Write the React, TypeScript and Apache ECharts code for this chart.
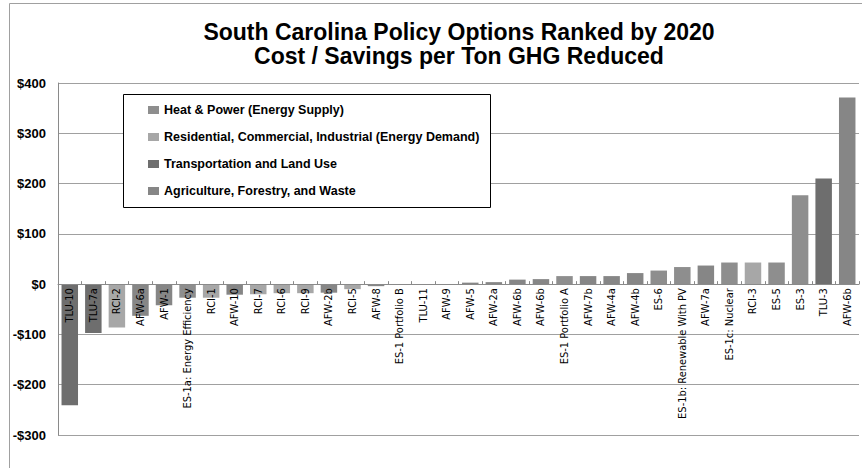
import React, { useEffect, useRef } from "react";
import * as echarts from "echarts";

const categories = [
  "TLU-10", "TLU-7a", "RCI-2", "AFW-6a", "AFW-1", "ES-1a: Energy Efficiency", "RCI-1", "AFW-10",
  "RCI-7", "RCI-6", "RCI-9", "AFW-2b", "RCI-5", "AFW-8", "ES-1 Portfolio B", "TLU-11", "AFW-9",
  "AFW-5", "AFW-2a", "AFW-6b", "AFW-6b", "ES-1 Portfolio A", "AFW-7b", "AFW-4a", "AFW-4b", "ES-6",
  "ES-1b: Renewable With PV", "AFW-7a", "ES-1c: Nuclear", "RCI-3", "ES-5", "ES-3", "TLU-3", "AFW-6b",
];

const values = [
  -241, -97, -86, -63, -42, -27, -27, -21,
  -20, -18, -18, -17, -10, -4, -1.5, 0, 0,
  3, 4, 9, 10, 16, 16, 16, 22, 27,
  34, 37, 43, 43, 43, 177, 210, 371,
];

const sectorOf = [
  "TLU", "TLU", "RCI", "AFW", "AFW", "ES", "RCI", "AFW",
  "RCI", "RCI", "RCI", "AFW", "RCI", "AFW", "ES", "TLU", "AFW",
  "AFW", "AFW", "AFW", "AFW", "ES", "AFW", "AFW", "AFW", "ES",
  "ES", "AFW", "ES", "RCI", "ES", "ES", "TLU", "AFW",
];

const sectorKeys = ["ES", "RCI", "TLU", "AFW"];
const sectorNames = [
  "Heat & Power (Energy Supply)",
  "Residential, Commercial, Industrial (Energy Demand)",
  "Transportation and Land Use",
  "Agriculture, Forestry, and Waste",
];
const sectorColors = ["#8e8e8e", "#a7a7a7", "#6e6e6e", "#868686"];

const yTicks = { min: -300, max: 400, interval: 100 };

const GRID_TOP = 83;
const GRID_BOTTOM = 33;
const CHART_H = 468;

export default function App() {
  const ref = useRef<HTMLDivElement>(null);
  useEffect(() => {
    if (!ref.current) return;
    const chart = echarts.init(ref.current, null, { renderer: "svg" });
    const plotH = CHART_H - GRID_TOP - GRID_BOTTOM;
    const zeroFromBottom = ((0 - yTicks.min) / (yTicks.max - yTicks.min)) * plotH;
    const series = sectorKeys.map((k, si) => ({
      name: sectorNames[si],
      type: "bar",
      stack: "all",
      barWidth: "70%",
      itemStyle: { color: sectorColors[si] },
      data: values.map((v, i) => (sectorOf[i] === k ? v : "-")),
    }));
    chart.setOption({
      animation: false,
      backgroundColor: "#ffffff",
      title: {
        text: "South Carolina Policy Options Ranked by 2020\nCost / Savings per Ton GHG Reduced",
        left: 454,
        top: 15,
        textAlign: "center",
        textStyle: {
          fontFamily: "Liberation Sans, Arial, sans-serif",
          fontSize: 23,
          fontWeight: "bold",
          color: "#000",
          lineHeight: 24,
        },
      },
      grid: { left: 58, right: 3, top: GRID_TOP, bottom: GRID_BOTTOM, containLabel: false, outerBoundsMode: "none" },
      legend: {
        orient: "vertical",
        left: 143,
        top: 98,
        itemWidth: 11,
        itemHeight: 8,
        itemGap: 13,
        z: 10,
        selectedMode: false,
        icon: "rect",
        textStyle: {
          fontFamily: "Liberation Sans, Arial, sans-serif",
          fontSize: 12.5,
          fontWeight: "bold",
          color: "#000",
          lineHeight: 14,
        },
        data: sectorNames,
      },
      graphic: [
        { type: "line", z: 1, shape: { x1: 9.5, y1: 3.5, x2: 862, y2: 3.5 }, style: { stroke: "#a0a0a0", lineWidth: 1 } },
        { type: "line", z: 1, shape: { x1: 9.5, y1: 3.5, x2: 9.5, y2: 468 }, style: { stroke: "#a0a0a0", lineWidth: 1 } },
        { type: "rect", z: 5, shape: { x: 123.5, y: 94.5, width: 367, height: 113 }, style: { fill: "#fff", stroke: "#000", lineWidth: 1 } },
      ],
      xAxis: {
        type: "category",
        data: categories,
        position: "bottom",
        offset: -zeroFromBottom,
        z: 4,
        axisLine: { onZero: false, lineStyle: { color: "#8a8a8a" } },
        axisTick: { show: true, inside: true, length: 3, lineStyle: { color: "#8a8a8a" } },
        axisLabel: {
          interval: 0,
          rotate: 90,
          margin: 4,
          fontFamily: "Liberation Sans Narrow, Arial Narrow, DejaVu Sans Condensed, sans-serif",
          fontSize: 11,
          color: "#000",
        },
      },
      yAxis: {
        type: "value",
        min: yTicks.min,
        max: yTicks.max,
        interval: yTicks.interval,
        axisLine: { show: true, lineStyle: { color: "#8a8a8a" } },
        axisTick: { show: false },
        splitLine: { lineStyle: { color: "#a0a0a0" } },
        axisLabel: {
          margin: 12,
          fontFamily: "Liberation Sans, Arial, sans-serif",
          fontSize: 13,
          fontWeight: "bold",
          color: "#000",
          formatter: (v: number) => (v < 0 ? `-$${-v}` : `$${v}`),
        },
      },
      series,
    });
    return () => chart.dispose();
  }, []);
  return (
    <div
      ref={ref}
      style={{ position: "fixed", left: 0, top: 0, width: 862, height: 468, background: "#fff" }}
    />
  );
}
